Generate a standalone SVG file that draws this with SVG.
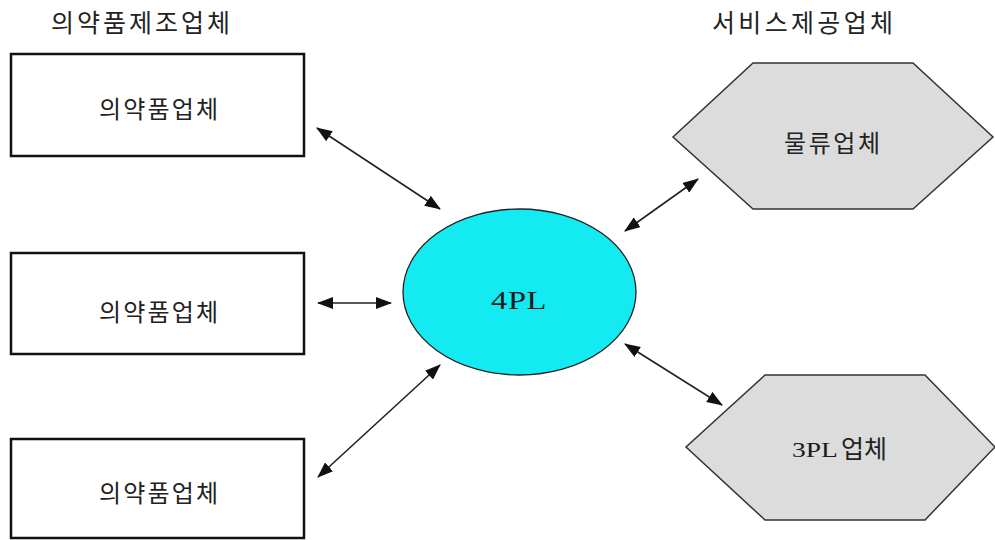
<svg xmlns="http://www.w3.org/2000/svg" width="995" height="540" viewBox="0 0 995 540">
  <style>
    .kr { font-family: "Noto Sans CJK KR", "Noto Sans", sans-serif; fill: #222; }
    .lat { font-family: "Liberation Serif", "DejaVu Serif", serif; fill: #1a1a1a; }
    .box { fill: #ffffff; stroke: #111; stroke-width: 2.5; }
    .hex { fill: #dcdcdc; stroke: #333; stroke-width: 1.5; }
    .hub { fill: #14eaf2; stroke: #222; stroke-width: 1.3; }
    .link { stroke: #222; stroke-width: 1.6; fill: none; marker-start: url(#tip); marker-end: url(#tip); }
  </style>
  <defs>
    <marker id="tip" viewBox="0 0 16 12" refX="15" refY="6" markerWidth="16" markerHeight="12" markerUnits="userSpaceOnUse" orient="auto-start-reverse">
      <path d="M0,0 L16,6 L0,12 z" fill="#111"/>
    </marker>
  </defs>

  <rect width="995" height="540" fill="#ffffff"/>

  <!-- group headings -->
  <g id="heading-left">
    <text class="kr" x="51" y="32" font-size="25" textLength="179" lengthAdjust="spacing">의약품제조업체</text>
  </g>
  <g id="heading-right">
    <text class="kr" x="712" y="32" font-size="25" textLength="181" lengthAdjust="spacing">서비스제공업체</text>
  </g>

  <!-- manufacturers -->
  <g id="maker-1">
    <rect class="box" x="11" y="54" width="293" height="102"/>
    <text class="kr" x="99" y="118" font-size="24" textLength="119" lengthAdjust="spacing">의약품업체</text>
  </g>
  <g id="maker-2">
    <rect class="box" x="11" y="253" width="293" height="101"/>
    <text class="kr" x="99" y="321" font-size="24" textLength="119" lengthAdjust="spacing">의약품업체</text>
  </g>
  <g id="maker-3">
    <rect class="box" x="11" y="439" width="293" height="99"/>
    <text class="kr" x="99" y="502" font-size="24" textLength="119" lengthAdjust="spacing">의약품업체</text>
  </g>

  <!-- central 4PL -->
  <g id="hub-4pl">
    <ellipse class="hub" cx="519.5" cy="292" rx="116.5" ry="83"/>
    <text class="lat" transform="translate(491 309) scale(1.3 1)" font-size="25" letter-spacing="0.5">4PL</text>
  </g>

  <!-- service providers -->
  <g id="provider-logistics">
    <polygon class="hex" points="753,63 913,63 993,137 913,209 753,209 673,137"/>
    <text class="kr" x="784" y="152" font-size="24" textLength="96" lengthAdjust="spacing">물류업체</text>
  </g>
  <g id="provider-3pl">
    <polygon class="hex" points="765,375 925,375 995,447 925,520 765,520 686,447"/>
    <text class="lat" transform="translate(792 457) scale(1.25 1)" font-size="22">3PL</text>
    <text class="kr" x="841" y="458" font-size="25">업체</text>
  </g>

  <!-- two-way links -->
  <g id="connectors">
    <line class="link" x1="317" y1="128" x2="440" y2="209"/>
    <line class="link" x1="318" y1="303" x2="391" y2="303"/>
    <line class="link" x1="318" y1="477" x2="440" y2="365"/>
    <line class="link" x1="625" y1="231" x2="698" y2="179"/>
    <line class="link" x1="625" y1="344" x2="722" y2="405"/>
  </g>
</svg>
